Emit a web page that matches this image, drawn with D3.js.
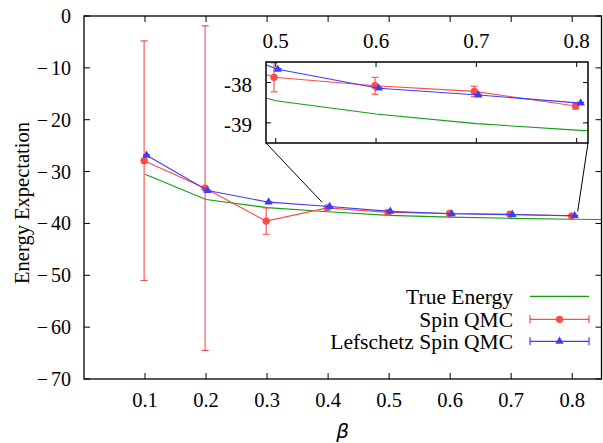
<!DOCTYPE html>
<html>
<head>
<meta charset="utf-8">
<script src="https://cdn.jsdelivr.net/npm/d3@7"></script>
<style>
  html, body { margin: 0; padding: 0; background: #fff; }
  svg { display: block; }
  text { font-family: "Liberation Serif", "Times New Roman", serif; fill: #000; }
</style>
</head>
<body>
<svg id="chart" width="603" height="443"></svg>
<script>
// ---------------- data ----------------
const betas = [0.1, 0.2, 0.3, 0.4, 0.5, 0.6, 0.7, 0.8];
const trueBetas = [0.1, 0.2, 0.3, 0.4, 0.5, 0.6, 0.7, 0.8, 0.9];
const trueEnergy = [-30.5, -35.4, -36.95, -37.75, -38.45, -38.78, -39.02, -39.18, -39.32];
const spinX = [0.0985, 0.1985, 0.2985, 0.3985, 0.4983, 0.599, 0.698, 0.799];
const spinQMC = [-27.9, -33.2, -39.55, -37.0, -37.87, -38.08, -38.22, -38.58];
const spinErr = [23.1, 31.3, 2.55, 0.35, 0.36, 0.21, 0.13, 0.08];
const lefX = [0.1025, 0.2025, 0.3025, 0.4025, 0.502, 0.6026, 0.702, 0.804];
const lefQMC = [-26.85, -33.65, -35.9, -36.75, -37.67, -38.14, -38.31, -38.51];
const lefErr = [0.02, 0.02, 0.02, 0.02, 0.02, 0.02, 0.02, 0.02];
const xTicks = [0.1, 0.2, 0.3, 0.4, 0.5, 0.6, 0.7, 0.8];
const yTicks = [0, -10, -20, -30, -40, -50, -60, -70];
const insetXTicks = [0.5, 0.6, 0.7, 0.8];
const insetYTicks = [-38, -39];
const zoomAnchors = [[0.39, -35.9], [0.809, -37.7]]; // where connector lines meet main plot
const legendNames = ["True Energy", "Spin QMC", "Lefschetz Spin QMC"];

// ---------------- styles ----------------
const cGreen = "#10a010", cRed = "#ff4a4a", cBlue = "#3c3cff";
const svg = d3.select("#chart");

// main plot geometry
const M = { l: 84, r: 601.5, t: 16, b: 379 };
const x = d3.scaleLinear().domain([0, 0.848]).range([M.l, M.r]);
const y = d3.scaleLinear().domain([-70, 0]).range([M.b, M.t]);

// inset geometry
const I = { l: 266, r: 588, t: 62, b: 143 };
const xi = d3.scaleLinear().domain([0.4903, 0.8113]).range([I.l, I.r]);
const yi = d3.scaleLinear().domain([-39.5, -37.49]).range([I.b, I.t]);

const defs = svg.append("defs");
defs.append("clipPath").attr("id", "clipMain").append("rect")
  .attr("x", M.l).attr("y", M.t).attr("width", M.r - M.l).attr("height", M.b - M.t);
defs.append("clipPath").attr("id", "clipInset").append("rect")
  .attr("x", I.l).attr("y", I.t).attr("width", I.r - I.l).attr("height", I.b - I.t);

function drawSeries(g, xs, ys, xv, yv, errs, color, marker) {
  const line = d3.line().x((d, i) => xs(xv[i])).y(d => ys(d));
  g.append("path").datum(yv).attr("d", line).attr("fill", "none")
    .attr("stroke", color).attr("stroke-width", 1.1);
  const cap = 3.5;
  const eb = g.append("g").attr("stroke", color).attr("stroke-width", 1.1);
  yv.forEach((v, i) => {
    const px = xs(xv[i]), y1 = ys(v + errs[i]), y2 = ys(v - errs[i]);
    eb.append("line").attr("x1", px).attr("x2", px).attr("y1", y1).attr("y2", y2);
    eb.append("line").attr("x1", px - cap).attr("x2", px + cap).attr("y1", y1).attr("y2", y1);
    eb.append("line").attr("x1", px - cap).attr("x2", px + cap).attr("y1", y2).attr("y2", y2);
  });
  const sym = d3.symbol().type(marker === "circle" ? d3.symbolCircle : d3.symbolTriangle)
    .size(marker === "circle" ? 42 : 30);
  g.append("g").selectAll("path").data(yv).join("path")
    .attr("d", sym)
    .attr("transform", (d, i) => `translate(${xs(xv[i])},${ys(d)})`)
    .attr("fill", color);
}

function drawAll(g, xs, ys) {
  const lineT = d3.line().x((d, i) => xs(trueBetas[i])).y(d => ys(d));
  g.append("path").datum(trueEnergy).attr("d", lineT).attr("fill", "none")
    .attr("stroke", cGreen).attr("stroke-width", 1.1);
  drawSeries(g, xs, ys, spinX, spinQMC, spinErr, cRed, "circle");
  drawSeries(g, xs, ys, lefX, lefQMC, lefErr, cBlue, "triangle");
}

// ---------------- main plot ----------------
const gMain = svg.append("g").attr("clip-path", "url(#clipMain)");
drawAll(gMain, x, y);

// ticks (mirrored, inward)
const tk = 6;
const tg = svg.append("g").attr("stroke", "#000").attr("stroke-width", 1);
xTicks.forEach(t => {
  tg.append("line").attr("x1", x(t)).attr("x2", x(t)).attr("y1", M.b).attr("y2", M.b - tk);
  tg.append("line").attr("x1", x(t)).attr("x2", x(t)).attr("y1", M.t).attr("y2", M.t + tk);
});
yTicks.forEach(t => {
  tg.append("line").attr("x1", M.l).attr("x2", M.l + tk).attr("y1", y(t)).attr("y2", y(t));
  tg.append("line").attr("x1", M.r).attr("x2", M.r - tk).attr("y1", y(t)).attr("y2", y(t));
});

// frame
svg.append("rect").attr("x", M.l).attr("y", M.t).attr("width", M.r - M.l).attr("height", M.b - M.t)
  .attr("fill", "none").attr("stroke", "#000").attr("stroke-width", 1.3);

// tick labels
svg.append("g").selectAll("text").data(xTicks).join("text")
  .attr("x", d => x(d)).attr("y", 406.5).attr("text-anchor", "middle")
  .attr("font-size", 20.5).text(d => d3.format(".1f")(d));
const yl = svg.append("g").selectAll("text").data(yTicks).join("text")
  .attr("x", 71).attr("y", d => y(d)).attr("dy", "0.35em").attr("text-anchor", "end")
  .attr("font-size", 20);
yl.each(function (d) {
  const t = d3.select(this);
  if (d === 0) { t.text("0"); return; }
  t.append("tspan").text("\u2212");
  t.append("tspan").attr("dx", 3).text(String(Math.abs(d)));
});

// axis titles
svg.append("text").attr("x", (M.l + M.r) / 2).attr("y", 438).attr("text-anchor", "middle")
  .attr("font-size", 20).attr("font-style", "italic")
  .style("font-family", "'DejaVu Sans', sans-serif").text("\u03b2");
svg.append("text").attr("transform", "translate(28.5,203) rotate(-90)")
  .attr("text-anchor", "middle").attr("font-size", 20.5).text("Energy Expectation");

// ---------------- legend ----------------
const legY = [296.3, 319.3, 341.3];
const legColors = [cGreen, cRed, cBlue];
const lg = svg.append("g");
legendNames.forEach((name, i) => {
  lg.append("text").attr("x", 513).attr("y", legY[i]).attr("dy", "0.35em")
    .attr("text-anchor", "end").attr("font-size", 21.5).text(name);
  lg.append("line").attr("x1", 530).attr("x2", 589).attr("y1", legY[i]).attr("y2", legY[i])
    .attr("stroke", legColors[i]).attr("stroke-width", 1.2);
  if (i > 0) {
    [530, 589].forEach(cx => lg.append("line").attr("x1", cx).attr("x2", cx)
      .attr("y1", legY[i] - 4).attr("y2", legY[i] + 4).attr("stroke", legColors[i]).attr("stroke-width", 1.2));
    const sym = d3.symbol().type(i === 1 ? d3.symbolCircle : d3.symbolTriangle).size(i === 1 ? 42 : 30);
    lg.append("path").attr("d", sym).attr("transform", `translate(559.5,${legY[i]})`).attr("fill", legColors[i]);
  }
});

// ---------------- connectors ----------------
const corners = [[I.l, I.b], [I.r, I.b]];
zoomAnchors.forEach((a, i) => {
  svg.append("line").attr("x1", corners[i][0]).attr("y1", corners[i][1])
    .attr("x2", x(a[0])).attr("y2", y(a[1])).attr("stroke", "#000").attr("stroke-width", 1);
});

// ---------------- inset ----------------
svg.append("rect").attr("x", I.l).attr("y", I.t).attr("width", I.r - I.l).attr("height", I.b - I.t)
  .attr("fill", "#fff");
const gIn = svg.append("g").attr("clip-path", "url(#clipInset)");
drawAll(gIn, xi, yi);
const itk = 5;
const itg = svg.append("g").attr("stroke", "#000").attr("stroke-width", 1);
insetXTicks.forEach(t => {
  itg.append("line").attr("x1", xi(t)).attr("x2", xi(t)).attr("y1", I.b).attr("y2", I.b - itk);
  itg.append("line").attr("x1", xi(t)).attr("x2", xi(t)).attr("y1", I.t).attr("y2", I.t + itk);
});
insetYTicks.forEach(t => {
  itg.append("line").attr("x1", I.l).attr("x2", I.l + itk).attr("y1", yi(t)).attr("y2", yi(t));
  itg.append("line").attr("x1", I.r).attr("x2", I.r - itk).attr("y1", yi(t)).attr("y2", yi(t));
});
svg.append("rect").attr("x", I.l).attr("y", I.t).attr("width", I.r - I.l).attr("height", I.b - I.t)
  .attr("fill", "none").attr("stroke", "#000").attr("stroke-width", 1.5);
svg.append("g").selectAll("text").data(insetXTicks).join("text")
  .attr("x", d => xi(d)).attr("y", 48).attr("text-anchor", "middle")
  .attr("font-size", 21).text(d => d3.format(".1f")(d));
svg.append("g").selectAll("text").data(insetYTicks).join("text")
  .attr("x", 252).attr("y", d => yi(d) + 2).attr("dy", "0.35em").attr("text-anchor", "end")
  .attr("font-size", 21).text(d => String(d));
</script>
</body>
</html>
